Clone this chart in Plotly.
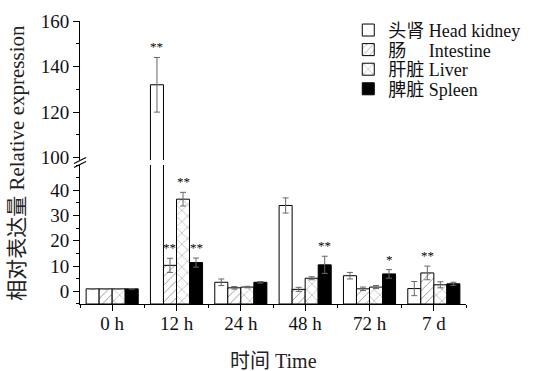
import plotly.graph_objects as go

categories = ["0 h", "12 h", "24 h", "48 h", "72 h", "7 d"]
series_names = ["头肾 Head kidney", "肠\u3000 Intestine", "肝脏 Liver", "脾脏 Spleen"]

head_kidney = [1.0, 132.0, 3.6, 34.0, 6.2, 1.1]
head_kidney_err = [0.1, 12.0, 1.3, 3.0, 1.3, 2.8]
intestine = [1.0, 10.3, 1.4, 0.8, 1.0, 7.3]
intestine_err = [0.1, 2.8, 0.5, 0.8, 0.7, 2.7]
liver = [1.0, 36.5, 1.7, 5.2, 1.7, 2.6]
liver_err = [0.1, 2.7, 0.3, 0.6, 0.6, 1.2]
spleen = [1.0, 11.4, 3.6, 10.5, 6.9, 3.0]
spleen_err = [0.1, 1.8, 0.3, 3.4, 1.7, 0.6]

sig_head = ["", "**", "", "", "", ""]
sig_int = ["", "**", "", "", "", "**"]
sig_liver = ["", "**", "", "", "", ""]
sig_spleen = ["", "**", "", "**", "*", ""]

values = [head_kidney, intestine, liver, spleen]
errors = [head_kidney_err, intestine_err, liver_err, spleen_err]
sigs = [sig_head, sig_int, sig_liver, sig_spleen]

BASE = -5
serif = "Liberation Serif, Times New Roman, Noto Sans CJK SC, serif"

patterns = [
    dict(shape="", fgcolor="black", bgcolor="white"),
    dict(shape="/", fgcolor="#222", bgcolor="white", size=6, solidity=0.15),
    dict(shape="x", fgcolor="#222", bgcolor="white", size=8, solidity=0.12),
    dict(shape="", fgcolor="black", bgcolor="black"),
]
colors = ["white", "white", "white", "black"]
legend_ids = ["legend", "legend2", "legend3", "legend4"]

fig = go.Figure()
xs = list(range(len(categories)))
for yax in ["y", "y2"]:
    for i in range(4):
        fig.add_trace(go.Bar(
            x=xs, y=[v - BASE for v in values[i]], base=BASE,
            name=series_names[i], yaxis=yax, xaxis="x",
            showlegend=(yax == "y"), legend=legend_ids[i],
            marker=dict(color=colors[i], line=dict(color="black", width=1),
                        pattern=patterns[i]),
            error_y=dict(type="data", array=errors[i], color="#666",
                         thickness=1, width=3),
            offsetgroup=str(i),
        ))

fig.update_layout(barmode="group", bargap=0.19, bargroupgap=0)

# significance markers as annotations above error bars
ngroups = 4
group_width = 1 - 0.19
bar_w = group_width / ngroups
annotations = []
for i in range(4):
    for j, s in enumerate(sigs[i]):
        top = values[i][j] + errors[i][j]
        if not s:
            continue
        yref = "y2" if top > 50 else "y"
        annotations.append(dict(
            text=s, x=j - group_width / 2 + bar_w * (i + 0.5), y=top,
            xref="x", yref=yref, showarrow=False, xanchor="center",
            yanchor="bottom", yshift=1,
            font=dict(family=serif, size=13, color="black")))

axis_common = dict(showline=True, linecolor="black", linewidth=1, showgrid=False,
                   zeroline=False, ticks="outside", tickcolor="black",
                   tickfont=dict(family=serif, size=19, color="#111"))

legend_common = dict(x=0.695, xanchor="left", yanchor="middle",
                     bgcolor="rgba(0,0,0,0)",
                     font=dict(family=serif, size=18, color="#111"), itemwidth=30)
legend_layout = {}
for k, lid in enumerate(legend_ids):
    legend_layout[lid] = dict(y=0.967 - k * 0.0692, **legend_common)

annotations += [
    dict(text="相对表达量 Relative expression", xref="paper", yref="paper",
         x=-0.165, y=0.5, textangle=-90, showarrow=False, xanchor="center",
         yanchor="middle", font=dict(family=serif, size=21, color="#222")),
    dict(text="时间 Time", xref="paper", yref="paper", x=0.5, y=-0.2,
         showarrow=False, xanchor="center", yanchor="middle",
         font=dict(family=serif, size=20, color="#222")),
]

fig.update_layout(
    width=537, height=371,
    margin=dict(l=80, r=70, t=15, b=67),
    paper_bgcolor="white", plot_bgcolor="white",
    xaxis=dict(range=[-0.5, 5.5], tickvals=xs, ticktext=categories, ticklen=6,
               ticklabelstandoff=-4,
               minor=dict(tickvals=[k - 0.5 for k in range(len(categories) + 1)],
                          ticks="outside", ticklen=3, tickcolor="black"),
               anchor="y", **axis_common),
    yaxis=dict(domain=[0, 0.491], range=[-5, 50], tickvals=[0, 10, 20, 30, 40],
               ticklen=6, minor=dict(dtick=5, tick0=0, ticks="outside", ticklen=3,
                                     tickcolor="black"),
               anchor="x", **axis_common),
    yaxis2=dict(domain=[0.509, 1], range=[99, 160], tickvals=[100, 120, 140, 160],
                ticklen=6, minor=dict(dtick=10, tick0=0, ticks="outside", ticklen=3,
                                      tickcolor="black"),
                anchor="x", **axis_common),
    annotations=annotations,
    shapes=[
        dict(type="line", xref="paper", yref="paper", xsizemode="pixel",
             ysizemode="pixel", xanchor=0, yanchor=0.5, x0=-6, x1=6, y0=-1, y1=5,
             line=dict(color="black", width=1.2)),
        dict(type="line", xref="paper", yref="paper", xsizemode="pixel",
             ysizemode="pixel", xanchor=0, yanchor=0.5, x0=-6, x1=6, y0=-5, y1=1,
             line=dict(color="black", width=1.2)),
    ],
    **legend_layout,
)

fig.write_html("out.html")
